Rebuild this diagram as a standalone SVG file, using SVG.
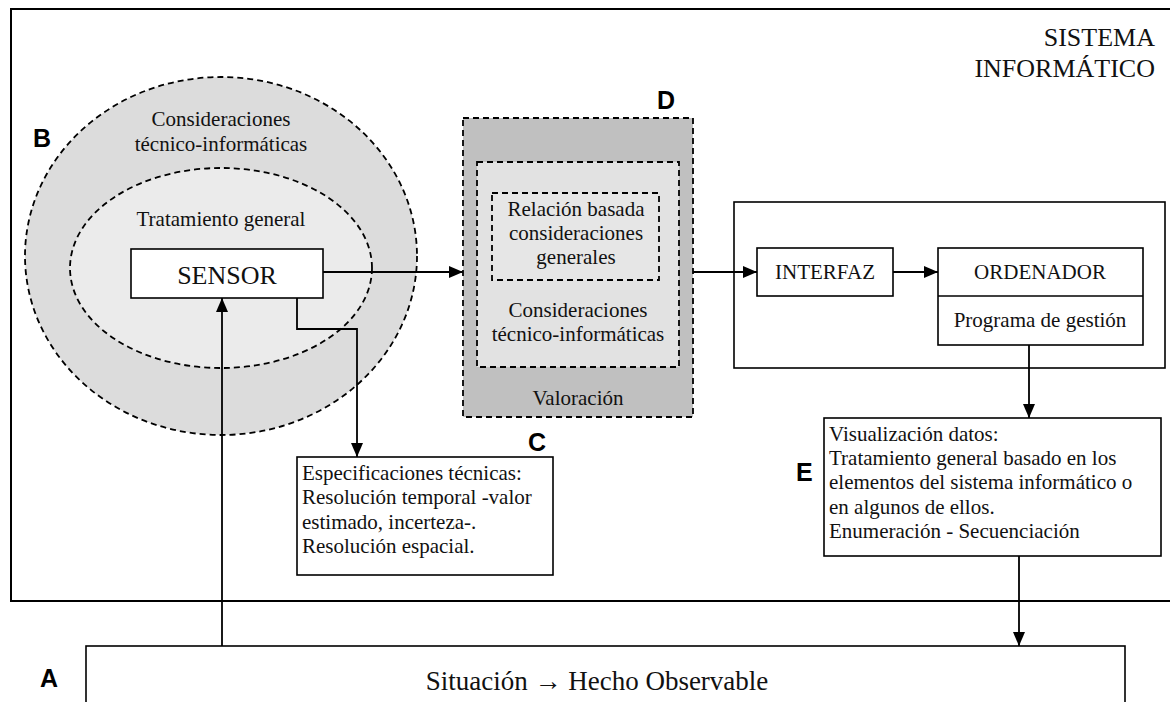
<svg xmlns="http://www.w3.org/2000/svg" width="1170" height="702" viewBox="0 0 1170 702">
  <defs>
    <marker id="arrow" viewBox="0 0 14 12" refX="14" refY="6" markerWidth="14" markerHeight="12" markerUnits="userSpaceOnUse" orient="auto">
      <path d="M0,0 L14,6 L0,12 Z" fill="#000"/>
    </marker>
    <style>
      .serif { font-family: "Liberation Serif", "Times New Roman", serif; fill: #111; }
      .t21 { font-size: 21px; }
      .t26 { font-size: 26px; }
      .mid { text-anchor: middle; }
      .tag { font-family: "Liberation Sans", Arial, sans-serif; font-weight: bold; font-size: 25px; fill: #000; }
      .box { fill: #fff; stroke: #000; stroke-width: 1.6; }
      .dash { stroke: #000; stroke-width: 1.8; stroke-dasharray: 6 4; }
      .conn { fill: none; stroke: #000; stroke-width: 1.8; }
    </style>
  </defs>

  <rect width="1170" height="702" fill="#fff"/>

  <!-- computer system frame (open to the right) -->
  <g id="sistema">
    <rect x="11" y="9" width="1170" height="592" fill="none" stroke="#000" stroke-width="2"/>
    <text class="serif t26" x="1155" y="46" text-anchor="end">SISTEMA</text>
    <text class="serif t26" x="1155" y="77" text-anchor="end">INFORMÁTICO</text>
  </g>

  <!-- B: nested considerations around the sensor -->
  <g id="nodo-b">
    <ellipse cx="221" cy="256" rx="196" ry="179" fill="#dcdcdc" class="dash"/>
    <ellipse cx="221" cy="268" rx="151" ry="100" fill="#ebebeb" class="dash"/>
    <text class="serif t21 mid" x="221" y="126">Consideraciones</text>
    <text class="serif t21 mid" x="221" y="151">técnico-informáticas</text>
    <text class="serif t21 mid" x="221" y="226">Tratamiento general</text>
    <text class="tag" x="33" y="147">B</text>
  </g>

  <g id="sensor">
    <rect class="box" x="131" y="249" width="192" height="49"/>
    <text class="serif t26 mid" x="227" y="284">SENSOR</text>
  </g>

  <!-- D: assessment block -->
  <g id="nodo-d">
    <rect x="463" y="118" width="230" height="299" fill="#c0c0c0" class="dash"/>
    <rect x="477" y="162" width="202" height="205" fill="#e2e2e2" class="dash"/>
    <rect x="492" y="193" width="167" height="87" fill="#e6e6e6" class="dash"/>
    <text class="serif t21 mid" x="576" y="216">Relación basada</text>
    <text class="serif t21 mid" x="576" y="240">consideraciones</text>
    <text class="serif t21 mid" x="576" y="264">generales</text>
    <text class="serif t21 mid" x="578" y="317">Consideraciones</text>
    <text class="serif t21 mid" x="578" y="341">técnico-informáticas</text>
    <text class="serif t21 mid" x="578" y="405">Valoración</text>
    <text class="tag" x="657" y="109">D</text>
  </g>

  <!-- hardware / software container -->
  <g id="equipo">
    <rect class="box" x="734" y="202" width="431" height="166"/>
  </g>

  <g id="interfaz">
    <rect class="box" x="757" y="248" width="136" height="48"/>
    <text class="serif t21 mid" x="825" y="279">INTERFAZ</text>
  </g>

  <g id="ordenador">
    <rect class="box" x="938" y="248" width="205" height="97"/>
    <line x1="938" y1="296" x2="1143" y2="296" stroke="#000" stroke-width="1.6"/>
    <text class="serif t21 mid" x="1040" y="279">ORDENADOR</text>
    <text class="serif t21 mid" x="1040" y="327">Programa de gestión</text>
  </g>

  <!-- C: technical specifications -->
  <g id="nodo-c">
    <rect class="box" x="297" y="457" width="256" height="118"/>
    <text class="serif t21" x="302" y="480">Especificaciones técnicas:</text>
    <text class="serif t21" x="302" y="504">Resolución temporal -valor</text>
    <text class="serif t21" x="302" y="529">estimado, incerteza-.</text>
    <text class="serif t21" x="302" y="553">Resolución espacial.</text>
    <text class="tag" x="528" y="451">C</text>
  </g>

  <!-- E: data display -->
  <g id="nodo-e">
    <rect class="box" x="824" y="418" width="337" height="138"/>
    <text class="serif t21" x="829" y="441">Visualización datos:</text>
    <text class="serif t21" x="829" y="465">Tratamiento general basado en los</text>
    <text class="serif t21" x="829" y="489">elementos del sistema informático o</text>
    <text class="serif t21" x="829" y="514">en algunos de ellos.</text>
    <text class="serif t21" x="829" y="538">Enumeración - Secuenciación</text>
    <text class="tag" x="796" y="481">E</text>
  </g>

  <!-- A: observed situation -->
  <g id="nodo-a">
    <rect class="box" x="86" y="646" width="1039" height="70" stroke-width="2"/>
    <text class="serif mid" x="597" y="690" font-size="27">Situación → Hecho Observable</text>
    <text class="tag" x="40" y="687">A</text>
  </g>

  <!-- connectors -->
  <g id="conectores" class="conn">
    <line x1="323" y1="272" x2="463" y2="272" marker-end="url(#arrow)"/>
    <line x1="693" y1="272" x2="757" y2="272" marker-end="url(#arrow)"/>
    <line x1="893" y1="272" x2="938" y2="272" marker-end="url(#arrow)"/>
    <line x1="1029" y1="345" x2="1029" y2="418" marker-end="url(#arrow)"/>
    <polyline points="297,298 297,329 357,329 357,457" marker-end="url(#arrow)"/>
    <line x1="222" y1="646" x2="222" y2="298" marker-end="url(#arrow)"/>
    <line x1="1019" y1="556" x2="1019" y2="646" marker-end="url(#arrow)"/>
  </g>
</svg>
